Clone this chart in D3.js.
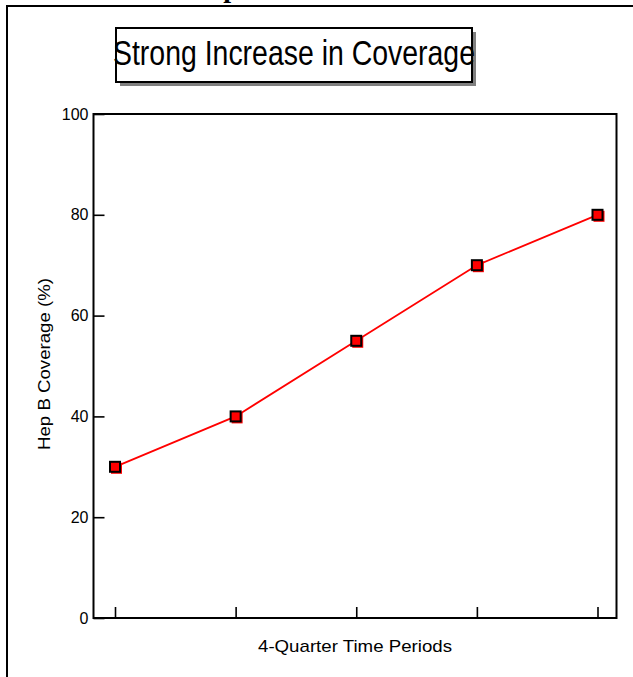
<!DOCTYPE html>
<html><head><meta charset="utf-8">
<script src="https://cdn.jsdelivr.net/npm/d3@7"></script>
<style>body{margin:0;background:#fff}svg{display:block}</style>
</head><body>
<script>
const periods = ["P1","P2","P3","P4","P5"];
const coverage = [30, 40, 55, 70, 80];
const yTicks = [0, 20, 40, 60, 80, 100];
const titleText = "Strong Increase in Coverage";
const xLabel = "4-Quarter Time Periods";
const yLabel = "Hep B Coverage (%)";

const W = 633, H = 677;
const svg = d3.select("body").append("svg").attr("width", W).attr("height", H);
const font = "Arial, 'Liberation Sans', Helvetica, sans-serif";

// cut-off slide title remnant at top (clipped in the reference too)
svg.append("text").attr("x", 231).attr("y", -3).attr("text-anchor","middle")
  .attr("font-family","'Liberation Serif', 'Times New Roman', serif").attr("font-weight","bold")
  .attr("font-size", 28).text("p");

// outer frame (top + left)
svg.append("path").attr("d", `M7,${H} V6 H${W}`).attr("fill","none").attr("stroke","#000").attr("stroke-width",2);

// plot area
const L = 93.5, R = 616.5, T = 114, B = 618;
const x = d3.scaleLinear().domain([0, periods.length-1]).range([115, 597.5]);
const y = d3.scaleLinear().domain([0, 100]).range([B, T]);

svg.append("rect").attr("x", L).attr("y", T).attr("width", R-L).attr("height", B-T)
  .attr("fill","none").attr("stroke","#000").attr("stroke-width",2);

// y axis
const yAxis = d3.axisLeft(y).tickValues(yTicks).tickSize(-11).tickPadding(5);
const gy = svg.append("g").attr("transform",`translate(${L},0)`).call(yAxis);
gy.select(".domain").remove();
gy.selectAll("line").attr("stroke","#000").attr("stroke-width",1.6);
gy.selectAll("text").attr("font-family",font).attr("font-size",16).attr("fill","#000");

// x axis
const xAxis = d3.axisBottom(x).tickValues(d3.range(periods.length)).tickSize(-11).tickFormat(()=>"");
const gx = svg.append("g").attr("transform",`translate(0,${B})`).call(xAxis);
gx.select(".domain").remove();
gx.selectAll("line").attr("stroke","#000").attr("stroke-width",1.6);

// axis labels
svg.append("text").attr("x", 355).attr("y", 652).attr("text-anchor","middle")
  .attr("font-family",font).attr("font-size",17).attr("textLength",194).attr("lengthAdjust","spacingAndGlyphs").text(xLabel);
svg.append("text").attr("transform","translate(50,364) rotate(-90)").attr("text-anchor","middle")
  .attr("font-family",font).attr("font-size",17).attr("textLength",172).attr("lengthAdjust","spacingAndGlyphs").text(yLabel);

// line
const line = d3.line().x((d,i)=>x(i)).y(d=>y(d));
svg.append("path").datum(coverage).attr("d", line).attr("fill","none").attr("stroke","#ff0000").attr("stroke-width",1.8);

// markers: red offset shadow + black-stroked red square
const s = 10;
svg.selectAll(".msh").data(coverage).enter().append("rect")
  .attr("x",(d,i)=>x(i)-s/2+1).attr("y",d=>y(d)-s/2+1).attr("width",s+1).attr("height",s+1).attr("fill","#ff0000");
svg.selectAll(".mk").data(coverage).enter().append("rect")
  .attr("x",(d,i)=>x(i)-s/2).attr("y",d=>y(d)-s/2).attr("width",s).attr("height",s)
  .attr("fill","#ff0000").attr("stroke","#000").attr("stroke-width",2);

// title box with shadow
const tb = {x:116, y:28, w:356, h:54};
svg.append("rect").attr("x",tb.x+4).attr("y",tb.y+4).attr("width",tb.w).attr("height",tb.h).attr("fill","#808080");
svg.append("rect").attr("x",tb.x).attr("y",tb.y).attr("width",tb.w).attr("height",tb.h).attr("fill","#fff").attr("stroke","#000").attr("stroke-width",2);
svg.append("text").attr("x", tb.x+tb.w/2).attr("y", 65).attr("text-anchor","middle")
  .attr("font-family",font).attr("font-size",35).attr("textLength",362).attr("lengthAdjust","spacingAndGlyphs").text(titleText);
</script>
</body></html>
